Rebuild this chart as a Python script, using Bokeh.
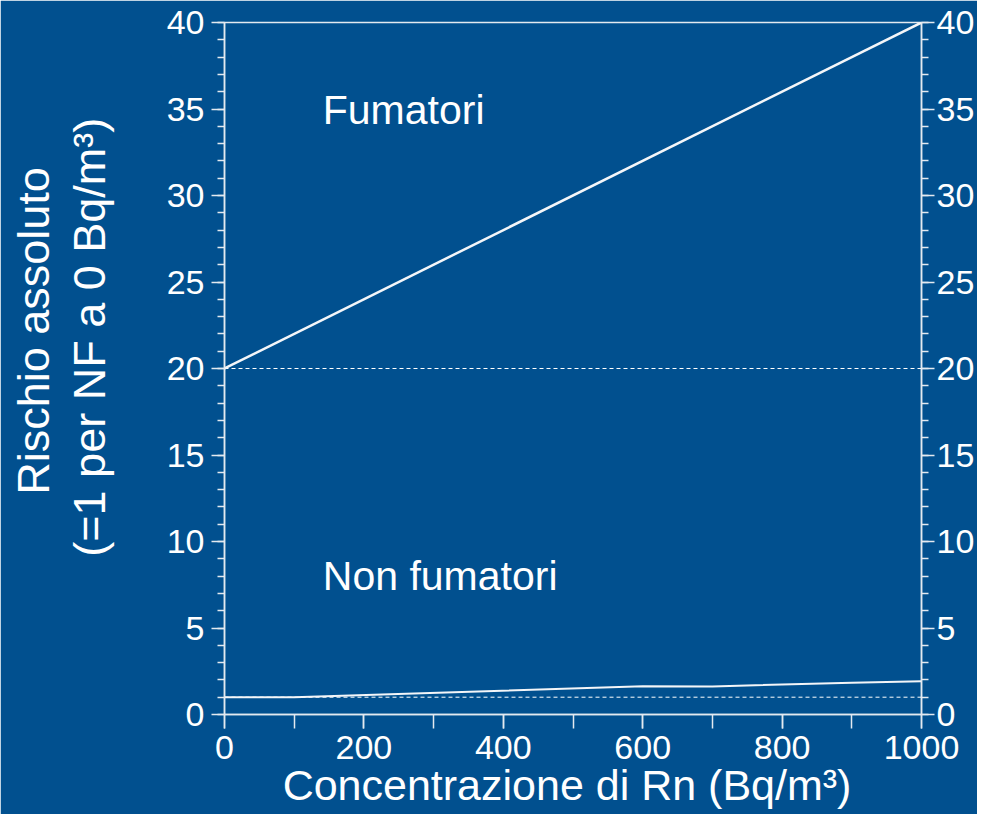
from bokeh.plotting import figure
from bokeh.models import Label, SingleIntervalTicker, LinearAxis, Range1d
from bokeh.embed import file_html
from bokeh.resources import INLINE

# ---- data ----
conc = [0, 1000]
smokers = [20, 40]
ns_conc = [0, 100, 600, 700, 900, 1000]
nonsmokers = [1.0, 1.0, 1.63, 1.62, 1.84, 1.92]
base_conc = [0, 1000]
smokers_base = [20, 20]
nonsmokers_base = [1, 1]

x_title = "Concentrazione di Rn (Bq/m³)"
y_title_1 = "Rischio assoluto"
y_title_2 = "(=1 per NF a 0 Bq/m³)"
lab_smokers = "Fumatori"
lab_nonsmokers = "Non fumatori"

BG = "#01508F"
FG = "#e4e9f0"
FONT = "Liberation Sans"
NB = "\u00a0"

p = figure(frame_width=697, frame_height=692,
           x_range=Range1d(0, 1000), y_range=Range1d(0, 40),
           output_backend="svg", toolbar_location=None,
           min_border_left=224, min_border_right=54,
           min_border_top=22, min_border_bottom=100,
           background_fill_color=BG, border_fill_color=BG,
           outline_line_color=FG, outline_line_width=1.5)
p.grid.visible = False

p.xaxis.ticker = SingleIntervalTicker(interval=200, num_minor_ticks=2)
p.yaxis.ticker = SingleIntervalTicker(interval=5, num_minor_ticks=5)
p.add_layout(LinearAxis(ticker=SingleIntervalTicker(interval=5, num_minor_ticks=5)), "right")

for ax in p.axis:
    ax.axis_line_color = FG
    ax.axis_line_width = 1.5
    ax.major_tick_line_color = FG
    ax.minor_tick_line_color = FG
    ax.major_tick_line_width = 1.5
    ax.minor_tick_line_width = 1.5
    ax.major_tick_in = 0
    ax.minor_tick_in = 0
    ax.major_label_text_color = "white"
    ax.major_label_text_font = FONT
    ax.major_label_text_font_size = "34px"
    ax.axis_label_text_color = "white"
    ax.axis_label_text_font = FONT
    ax.axis_label_text_font_style = "normal"

p.xaxis.major_tick_out = 14
p.xaxis.minor_tick_out = 14
p.xaxis.major_label_standoff = 7
p.xaxis.axis_label = x_title + NB
p.xaxis.axis_label_text_font_size = "43px"
p.xaxis.axis_label_standoff = -1

for ax in p.yaxis:
    ax.major_tick_out = 13
    ax.minor_tick_out = 7
p.left[0].major_label_standoff = 7
p.right[0].major_label_standoff = 2

p.left[0].axis_label = NB * 6 + y_title_1 + "\n" + NB * 5 + y_title_2
p.left[0].axis_label_text_font_size = "45px"
p.left[0].axis_label_text_line_height = 1.1
p.left[0].axis_label_standoff = 49

# reference dashed lines
p.line(base_conc, smokers_base, line_color="white", line_width=1, line_dash="4 3")
p.line(base_conc, nonsmokers_base, line_color="white", line_width=1, line_dash="4 3")
# series
p.line(conc, smokers, line_color="#f4f6f9", line_width=2.5)
p.line(ns_conc, nonsmokers, line_color="#f4f6f9", line_width=2)

# annotations
p.add_layout(Label(x=141, y=34.92, text=lab_smokers, text_color="white",
                   text_font=FONT, text_font_size="41px",
                   text_align="left", text_baseline="alphabetic"))
p.add_layout(Label(x=141, y=7.98, text=lab_nonsmokers, text_color="white",
                   text_font=FONT, text_font_size="41px",
                   text_align="left", text_baseline="alphabetic"))

open("out.html", "w").write(file_html(p, INLINE))
